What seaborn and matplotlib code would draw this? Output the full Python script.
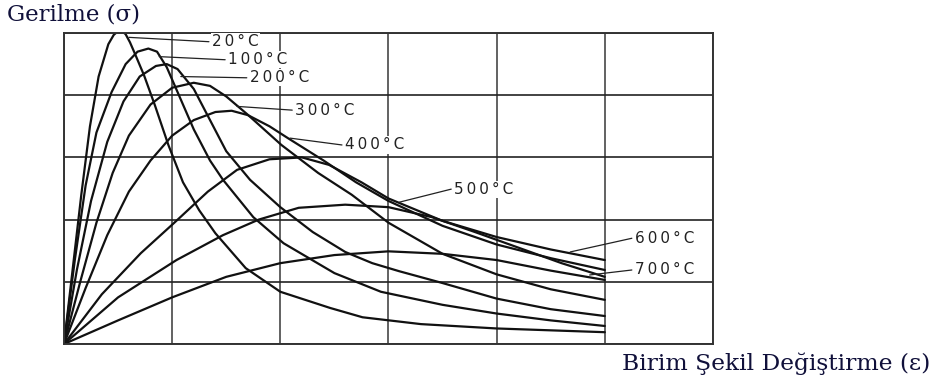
import matplotlib
matplotlib.use("Agg")
import matplotlib.pyplot as plt
import seaborn as sns
import pandas as pd

# ---- data (strain in grid units, stress in grid units) ----
temps = ["20°C", "100°C", "200°C", "300°C", "400°C", "500°C", "600°C", "700°C"]

eps_20 = [0, 0.08, 0.16, 0.24, 0.32, 0.41, 0.46, 0.5, 0.53, 0.57, 0.61, 0.655, 0.74, 0.84, 0.965, 1.1, 1.25, 1.4, 1.68, 2.0, 2.46, 2.76, 3.3, 4.0, 5.0]
sig_20 = [0, 1.2, 2.4, 3.5, 4.3, 4.82, 4.97, 5.03, 5.04, 4.98, 4.85, 4.67, 4.32, 3.84, 3.2, 2.6, 2.15, 1.78, 1.22, 0.84, 0.58, 0.43, 0.32, 0.25, 0.19]

eps_100 = [0, 0.1, 0.2, 0.3, 0.44, 0.57, 0.68, 0.78, 0.86, 0.95, 1.05, 1.2, 1.35, 1.47, 1.75, 2.03, 2.5, 2.93, 3.5, 4.0, 4.5, 5.0]
sig_100 = [0, 1.35, 2.55, 3.4, 4.05, 4.5, 4.7, 4.75, 4.7, 4.45, 4.05, 3.45, 2.95, 2.64, 2.04, 1.62, 1.14, 0.84, 0.63, 0.49, 0.38, 0.29]

eps_200 = [0, 0.12, 0.25, 0.4, 0.55, 0.7, 0.85, 0.95, 1.05, 1.2, 1.35, 1.5, 1.72, 2.0, 2.3, 2.6, 2.85, 3.1, 3.5, 4.0, 4.5, 5.0]
sig_200 = [0, 1.2, 2.3, 3.25, 3.9, 4.3, 4.47, 4.5, 4.42, 4.1, 3.6, 3.1, 2.64, 2.2, 1.8, 1.48, 1.3, 1.17, 0.98, 0.73, 0.56, 0.45]

eps_300 = [0, 0.15, 0.3, 0.45, 0.6, 0.8, 1.0, 1.2, 1.35, 1.5, 1.69, 2.01, 2.35, 2.66, 3.0, 3.5, 4.0, 4.5, 5.0]
sig_300 = [0, 1.0, 1.95, 2.75, 3.35, 3.85, 4.12, 4.2, 4.15, 3.98, 3.7, 3.2, 2.75, 2.4, 1.95, 1.45, 1.12, 0.88, 0.71]

eps_400 = [0, 0.2, 0.4, 0.6, 0.8, 1.0, 1.2, 1.4, 1.55, 1.7, 1.9, 2.07, 2.4, 2.7, 3.0, 3.5, 4.0, 4.5, 5.0]
sig_400 = [0, 0.9, 1.75, 2.45, 2.95, 3.35, 3.6, 3.73, 3.75, 3.68, 3.5, 3.31, 2.95, 2.6, 2.3, 1.9, 1.6, 1.38, 1.19]

eps_500 = [0, 0.35, 0.71, 1.02, 1.33, 1.6, 1.9, 2.2, 2.45, 2.75, 3.0, 3.5, 4.0, 4.5, 5.0]
sig_500 = [0, 0.8, 1.46, 1.95, 2.45, 2.8, 2.97, 3.0, 2.88, 2.6, 2.34, 1.98, 1.72, 1.52, 1.35]

eps_600 = [0, 0.5, 1.04, 1.47, 1.8, 2.17, 2.6, 3.0, 3.4, 3.8, 4.2, 4.6, 5.0]
sig_600 = [0, 0.75, 1.35, 1.75, 2.0, 2.19, 2.24, 2.2, 2.04, 1.8, 1.55, 1.3, 1.08]

eps_700 = [0, 0.5, 1.0, 1.5, 2.0, 2.5, 3.0, 3.5, 4.0, 4.5, 5.0]
sig_700 = [0, 0.38, 0.75, 1.08, 1.3, 1.43, 1.49, 1.45, 1.35, 1.18, 1.03]

# label text anchor (left, centre) and leader start point on the curve
label_x = [1.37, 1.52, 1.72, 2.14, 2.60, 3.61, 5.28, 5.28]
label_y = [4.86, 4.57, 4.28, 3.76, 3.20, 2.49, 1.70, 1.19]
leader_x0 = [0.60, 0.88, 1.08, 1.60, 2.09, 3.10, 4.68, 4.86]
leader_y0 = [4.93, 4.62, 4.30, 3.82, 3.31, 2.28, 1.48, 1.11]

y_title = "Gerilme (σ)"
x_title = "Birim Şekil Değiştirme (ε)"

# ---- build long table ----
all_eps = [eps_20, eps_100, eps_200, eps_300, eps_400, eps_500, eps_600, eps_700]
all_sig = [sig_20, sig_100, sig_200, sig_300, sig_400, sig_500, sig_600, sig_700]
rows = []
for t, xs, ys in zip(temps, all_eps, all_sig):
    for i, (a, b) in enumerate(zip(xs, ys)):
        rows.append({"temp": t, "order": i, "eps": a, "sig": b})
df = pd.DataFrame(rows)

sns.set_theme(style="white")
plt.rcParams["font.family"] = ["DejaVu Sans"]

fig = plt.figure(figsize=(9.37, 3.78), dpi=100)
ax = fig.add_axes([0.0683, 0.0899, 0.6926, 0.8228])

sns.lineplot(data=df, x="eps", y="sig", units="temp", estimator=None, sort=False,
             color="#111111", linewidth=1.6, ax=ax, legend=False)

ax.set_xlim(0, 6)
ax.set_ylim(0, 5)
ax.set_xticks(range(7))
ax.set_yticks(range(6))
ax.set_xticklabels([])
ax.set_yticklabels([])
ax.tick_params(length=0)
ax.set_xlabel("")
ax.set_ylabel("")
ax.grid(True, axis="x", color="#555555", linewidth=1.3)
ax.grid(True, axis="y", color="#222222", linewidth=1.2)
ax.set_axisbelow(True)
for s in ax.spines.values():
    s.set_color("#333333")
    s.set_linewidth(1.4)

thin = "\u2009"
for t, lx, ly, x0, y0 in zip(temps, label_x, label_y, leader_x0, leader_y0):
    ax.plot([x0, lx - 0.03], [y0, ly], color="#222222", linewidth=0.9, zorder=4)
    ax.text(lx, ly, thin.join(t), ha="left", va="center", fontsize=11,
            family=["DejaVu Sans"], color="#222222", zorder=5,
            bbox=dict(facecolor="white", edgecolor="none", pad=0.8), clip_on=False)

fig.text(7 / 937, 1 - 14 / 378, y_title, ha="left", va="center", fontsize=16.5,
         family=["DejaVu Serif"], color="#10103a")
fig.text(622 / 937, 1 - 364 / 378, x_title, ha="left", va="center", fontsize=16.8,
         family=["DejaVu Serif"], color="#10103a")

fig.savefig("out.png", dpi=100)
